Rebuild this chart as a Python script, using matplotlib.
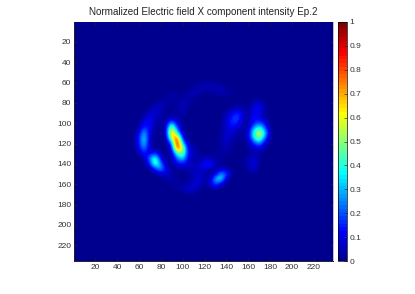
import numpy as np
import matplotlib
matplotlib.use('Agg')
import matplotlib.pyplot as plt
from matplotlib.colors import LinearSegmentedColormap

plt.rcParams['font.family'] = ['Liberation Sans', 'DejaVu Sans']

title = 'Normalized Electric field X component intensity Ep.2'
x_ticks = [20, 40, 60, 80, 100, 120, 140, 160, 180, 200, 220]
y_ticks = [20, 40, 60, 80, 100, 120, 140, 160, 180, 200, 220]
cbar_ticks = [0, 0.1, 0.2, 0.3, 0.4, 0.5, 0.6, 0.7, 0.8, 0.9, 1]
cbar_labels = ['0', '0.1', '0.2', '0.3', '0.4', '0.5', '0.6', '0.7', '0.8', '0.9', '1']

# intensity in percent, columns x=50..190, rows y=50..175, step 5
grid_x = list(range(50, 195, 5))
grid_y = list(range(50, 180, 5))
intensity = [
 [0,0,0,0,0,0,0,0,0,0,0,0,0,0,0,0,0,0,0,0,0,0,0,0,0,0,0,0,0],
 [0,0,0,0,0,0,0,0,0,0,0,0,0,1,1,0,0,0,0,0,0,0,0,0,0,0,0,0,0],
 [0,0,0,0,0,0,0,0,0,0,0,0,1,1,2,2,1,1,0,0,0,0,0,0,0,0,0,0,0],
 [0,0,0,0,0,0,0,0,0,1,0,1,2,4,5,6,6,3,2,1,0,0,0,0,0,0,0,0,0],
 [0,0,0,0,0,0,0,1,2,2,1,2,5,4,2,2,3,5,4,2,1,0,0,0,0,0,0,0,0],
 [0,0,0,0,0,0,1,2,3,1,2,4,3,1,0,0,1,1,1,1,1,0,0,0,0,0,0,0,0],
 [0,0,0,0,0,1,4,3,1,2,4,3,1,0,0,0,0,0,0,1,1,1,1,4,7,2,0,0,0],
 [0,0,0,0,2,6,6,2,1,3,6,2,1,0,0,0,0,0,1,2,4,3,1,9,12,3,0,0,0],
 [0,0,0,0,6,9,4,1,1,3,4,1,0,0,0,0,0,0,4,8,15,7,2,12,10,3,0,0,0],
 [0,0,0,6,11,6,2,1,4,3,2,0,0,0,0,0,0,1,6,15,22,7,1,14,9,3,0,0,0],
 [0,0,1,10,12,4,1,3,30,9,2,0,0,0,0,0,0,1,7,17,15,4,2,12,20,10,1,0,0],
 [0,0,3,18,12,2,1,6,62,18,3,0,0,0,0,0,0,2,6,12,7,2,4,28,42,22,2,0,0],
 [0,0,8,32,8,1,1,4,82,35,4,1,0,0,0,0,0,2,9,7,3,2,6,42,62,35,3,0,0],
 [0,0,12,38,6,1,0,1,58,90,10,2,0,0,0,0,1,3,9,4,2,1,6,35,55,22,2,0,0],
 [0,0,12,36,5,1,0,1,20,100,32,4,2,1,0,0,1,3,6,3,1,1,3,15,28,8,1,0,0],
 [0,0,8,28,5,1,0,0,6,88,60,8,4,2,0,0,1,2,4,2,0,0,2,6,10,3,0,0,0],
 [0,0,3,14,8,18,3,1,3,40,55,10,6,2,1,1,2,3,3,1,0,0,1,4,3,0,0,0,0],
 [0,0,0,4,24,48,10,1,2,22,35,10,3,2,6,4,2,2,1,0,0,1,4,8,2,0,0,0,0],
 [0,0,0,1,12,52,25,4,1,10,15,6,3,7,12,18,4,2,0,0,0,1,5,11,2,0,0,0,0],
 [0,0,0,0,2,15,32,10,1,2,3,4,8,5,9,5,2,5,4,0,0,0,3,8,1,0,0,0,0],
 [0,0,0,0,0,2,6,8,3,1,0,2,4,8,3,1,6,28,22,2,0,0,1,2,0,0,0,0,0],
 [0,0,0,0,0,0,1,3,4,2,0,1,4,10,2,4,32,40,5,0,0,0,0,0,0,0,0,0,0],
 [0,0,0,0,0,0,0,1,2,4,2,4,8,8,2,6,22,6,1,0,0,0,0,0,0,0,0,0,0],
 [0,0,0,0,0,0,0,0,0,2,4,8,8,2,0,1,2,1,0,0,0,0,0,0,0,0,0,0,0],
 [0,0,0,0,0,0,0,0,0,0,1,1,1,0,0,0,0,0,0,0,0,0,0,0,0,0,0,0,0],
 [0,0,0,0,0,0,0,0,0,0,0,0,0,0,0,0,0,0,0,0,0,0,0,0,0,0,0,0,0],
]

# matlab style jet
jet = LinearSegmentedColormap.from_list('mjet', [
    (0.0, (0, 0, 0.5625)), (0.117, (0, 0, 1)), (0.365, (0, 1, 1)),
    (0.619, (1, 1, 0)), (0.873, (1, 0, 0)), (1.0, (0.5, 0, 0))], N=64)

W, H = 415, 294
fig = plt.figure(figsize=(W / 100, H / 100), dpi=100)
ax = fig.add_axes([74 / W, 1 - 261 / H, (333 - 74) / W, (261 - 22) / H])
cax = fig.add_axes([338 / W, 1 - 261 / H, (347 - 338) / W, (261 - 22) / H])

field = np.array(intensity) / 100
ax.set_facecolor(jet(0))
im = ax.imshow(field, cmap=jet, vmin=0, vmax=1, aspect='auto', interpolation='bicubic',
               extent=(grid_x[0] - 2.5, grid_x[-1] + 2.5, grid_y[-1] + 2.5, grid_y[0] - 2.5))
ax.set_xlim(0.5, 237.5)
ax.set_ylim(235.5, 0.5)
ax.set_xticks(x_ticks)
ax.set_yticks(y_ticks)
ax.tick_params(direction='in', length=2, width=0.5, labelsize=6, top=True, right=True,
               color='#222222', labelcolor='#333333', pad=2)
ax.set_title(title, fontsize=7.1, color='#222222', pad=5)
ax.spines['top'].set_visible(False)
ax.spines['right'].set_color('#bbbbbb')
ax.spines['left'].set_color('#222222')
ax.spines['bottom'].set_color('#222222')
for s in ax.spines.values():
    s.set_linewidth(0.7)

cb = fig.colorbar(im, cax=cax)
cb.set_ticks(cbar_ticks)
cb.set_ticklabels(cbar_labels)
cax.tick_params(direction='in', length=2, width=0.5, labelsize=6, colors='#333333', pad=2)
cb.outline.set_linewidth(0.5)

fig.savefig('out.png', dpi=100)
